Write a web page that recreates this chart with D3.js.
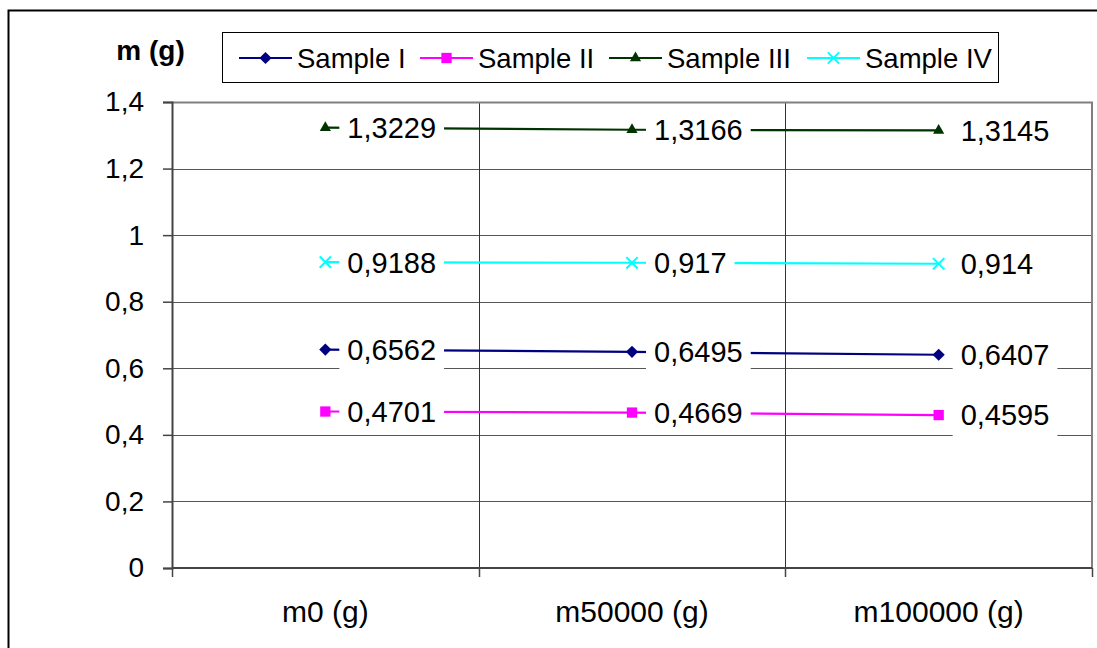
<!DOCTYPE html>
<html>
<head>
<meta charset="utf-8">
<script src="https://cdn.jsdelivr.net/npm/d3@7"></script>
<style>
  html, body { margin: 0; padding: 0; background: #fff; }
  svg { display: block; font-family: "Liberation Sans", Arial, sans-serif; }
</style>
</head>
<body>
<svg id="chart" width="1097" height="648"></svg>
<script>
// Mass measurements after 0, 50000 and 100000 cycles
const categories = ["m0 (g)", "m50000 (g)", "m100000 (g)"];
const seriesNames = ["Sample I", "Sample II", "Sample III", "Sample IV"];
const sampleI   = [0.6562, 0.6495, 0.6407];
const sampleII  = [0.4701, 0.4669, 0.4595];
const sampleIII = [1.3229, 1.3166, 1.3145];
const sampleIV  = [0.9188, 0.917, 0.914];
const yTicks = [0, 0.2, 0.4, 0.6, 0.8, 1, 1.2, 1.4];
const yTitle = "m (g)";

const series = [
  { name: seriesNames[0], values: sampleI,   color: "#000080", symbol: d3.symbolDiamond2,  size: 95 },
  { name: seriesNames[1], values: sampleII,  color: "#FF00FF", symbol: d3.symbolSquare2,   size: 135 },
  { name: seriesNames[2], values: sampleIII, color: "#003300", symbol: d3.symbolTriangle2, size: 90 },
  { name: seriesNames[3], values: sampleIV,  color: "#00FFFF", symbol: d3.symbolX,         size: 85 }
];

const locale = d3.formatLocale({ decimal: ",", thousands: ".", grouping: [3], currency: ["", ""] });
const fmt = locale.format("~g");

const svg = d3.select("#chart");
const plot = { left: 172, right: 1092, top: 102, bottom: 568 };

const x = d3.scaleBand().domain(categories).range([plot.left, plot.right]).padding(0);
const y = d3.scaleLinear().domain([0, 1.4]).range([plot.bottom, plot.top]);
const cx = c => x(c) + x.bandwidth() / 2;

// outer frame
svg.append("rect")
  .attr("x", 8.5).attr("y", 10.5).attr("width", 1200).attr("height", 800)
  .attr("fill", "#fff").attr("stroke", "#000").attr("stroke-width", 2);

// horizontal gridlines
svg.append("g").selectAll("line")
  .data(yTicks.filter(t => t > 0 && t < 1.4))
  .join("line")
  .attr("x1", plot.left).attr("x2", plot.right)
  .attr("y1", d => Math.round(y(d)) + 0.5).attr("y2", d => Math.round(y(d)) + 0.5)
  .attr("stroke", "#555").attr("stroke-width", 1.2);

// vertical category separators
svg.append("g").selectAll("line")
  .data(categories.slice(1))
  .join("line")
  .attr("x1", d => Math.round(x(d)) + 0.5).attr("x2", d => Math.round(x(d)) + 0.5)
  .attr("y1", plot.top).attr("y2", plot.bottom)
  .attr("stroke", "#333").attr("stroke-width", 1);

// plot frame: top and right in grey
svg.append("path")
  .attr("d", `M${plot.left},${plot.top + 0.5}H${plot.right}V${plot.bottom}`)
  .attr("fill", "none").attr("stroke", "#808080").attr("stroke-width", 2);

// y axis
const yAxis = svg.append("g")
  .attr("transform", `translate(${plot.left},0)`)
  .call(d3.axisLeft(y).tickValues(yTicks).tickFormat(fmt).tickSize(9).tickPadding(19));
yAxis.select(".domain").attr("stroke", "#444").attr("stroke-width", 2);
yAxis.selectAll(".tick line").attr("stroke", "#444").attr("stroke-width", 1.5);
yAxis.selectAll(".tick text")
  .attr("font-size", 28).attr("fill", "#000")
  .attr("font-family", "'Liberation Sans', Arial, sans-serif");

// x axis with ticks at category boundaries
const xAxisG = svg.append("g").attr("transform", `translate(0,${plot.bottom})`);
xAxisG.append("line")
  .attr("x1", plot.left).attr("x2", plot.right).attr("y1", 0).attr("y2", 0)
  .attr("stroke", "#444").attr("stroke-width", 2);
xAxisG.selectAll("line.tick")
  .data(categories.map(c => x(c)).concat([plot.right]))
  .join("line").attr("class", "tick")
  .attr("x1", d => Math.round(d) + 0.5).attr("x2", d => Math.round(d) + 0.5)
  .attr("y1", 0).attr("y2", 9)
  .attr("stroke", "#444").attr("stroke-width", 1.5);
xAxisG.selectAll("text")
  .data(categories)
  .join("text")
  .attr("x", d => cx(d)).attr("y", 54)
  .attr("text-anchor", "middle")
  .attr("font-size", 30)
  .text(d => d);

// series lines
const line = d3.line().x((v, i) => cx(categories[i])).y(v => y(v));
svg.append("g").selectAll("path")
  .data(series)
  .join("path")
  .attr("d", s => line(s.values))
  .attr("fill", "none")
  .attr("stroke", s => s.color)
  .attr("stroke-width", 2.2);

// markers
series.forEach(s => {
  svg.append("g").selectAll("path")
    .data(s.values)
    .join("path")
    .attr("transform", (v, i) => `translate(${cx(categories[i])},${y(v)})`)
    .attr("d", d3.symbol().type(s.symbol).size(s.size))
    .attr("fill", s.symbol === d3.symbolX ? "none" : s.color)
    .attr("stroke", s.color)
    .attr("stroke-width", s.symbol === d3.symbolX ? 2 : 0);
});

// data labels on white boxes
series.forEach(s => {
  const g = svg.append("g");
  s.values.forEach((v, i) => {
    const px = cx(categories[i]), py = y(v);
    const lab = g.append("g");
    const rect = lab.append("rect").attr("fill", "#fff");
    const t = lab.append("text")
      .attr("x", px + 22).attr("y", py).attr("dy", "0.36em")
      .attr("font-size", 29)
      .text(fmt(v));
    const w = t.node().getComputedTextLength();
    rect.attr("x", px + 14).attr("y", py - 21).attr("width", w + 16).attr("height", 42);
  });
});

// y axis title
svg.append("text")
  .attr("x", 150.5).attr("y", 60)
  .attr("text-anchor", "middle")
  .attr("font-size", 28).attr("font-weight", "bold")
  .text(yTitle);

// legend
const legend = svg.append("g");
legend.append("rect")
  .attr("x", 222.5).attr("y", 32.5).attr("width", 776).attr("height", 50)
  .attr("fill", "#fff").attr("stroke", "#000").attr("stroke-width", 1);
const legendX = [239, 420, 609, 807];
const legendY = 58;
series.forEach((s, i) => {
  const lg = legend.append("g").attr("transform", `translate(${legendX[i]},${legendY})`);
  lg.append("line").attr("x1", 0).attr("x2", 53).attr("y1", 0).attr("y2", 0)
    .attr("stroke", s.color).attr("stroke-width", 2.2);
  lg.append("path").attr("transform", "translate(26.5,0)")
    .attr("d", d3.symbol().type(s.symbol).size(s.size))
    .attr("fill", s.symbol === d3.symbolX ? "none" : s.color)
    .attr("stroke", s.color)
    .attr("stroke-width", s.symbol === d3.symbolX ? 2 : 0);
  lg.append("text").attr("x", 58).attr("y", 0).attr("dy", "0.36em")
    .attr("font-size", 27.5).text(s.name);
});
</script>
</body>
</html>
